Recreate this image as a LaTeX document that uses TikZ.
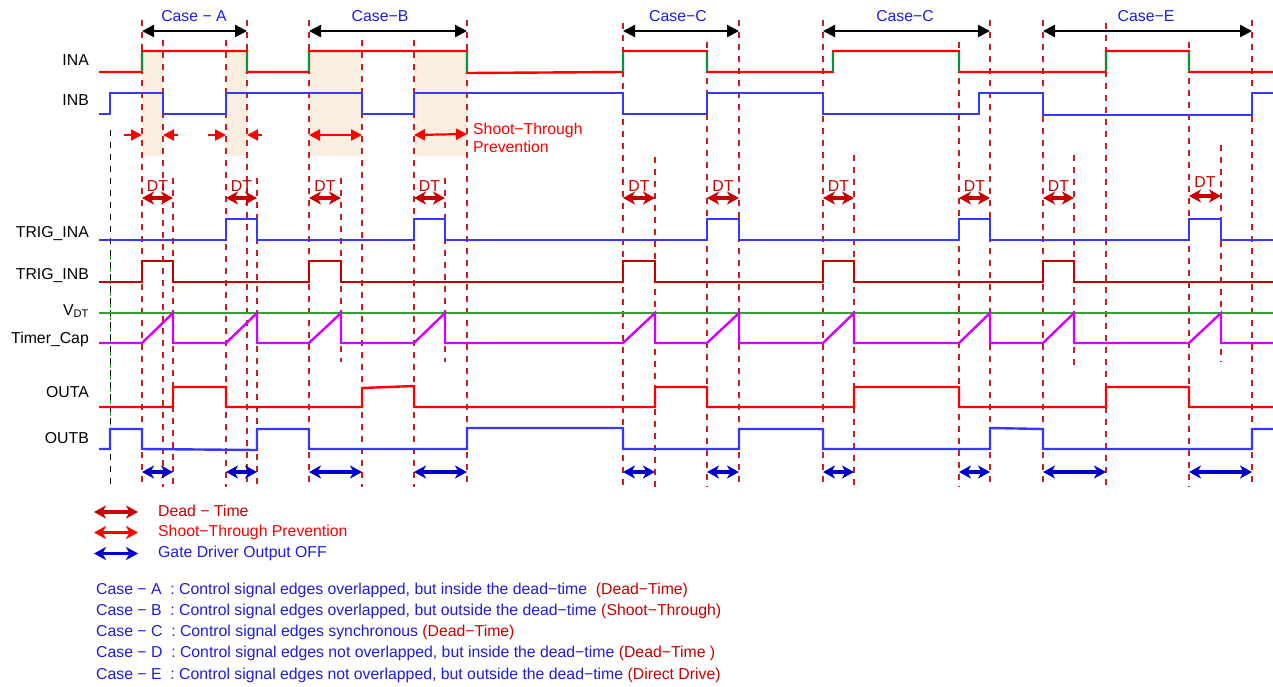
\documentclass[tikz,border=0pt]{standalone}
\usepackage{fontspec}
\setmainfont{Liberation Sans}
\usetikzlibrary{arrows.meta}
\definecolor{sigred}{RGB}{255,0,0}
\definecolor{siggreen}{RGB}{0,150,60}
\definecolor{sigblue}{RGB}{55,55,255}
\definecolor{dtred}{RGB}{200,0,0}
\definecolor{vdtgreen}{RGB}{50,160,50}
\definecolor{capmag}{RGB}{210,0,255}
\definecolor{offblue}{RGB}{0,0,205}
\definecolor{txtblue}{RGB}{30,30,220}
\definecolor{shadecol}{RGB}{250,238,224}
\definecolor{guidered}{RGB}{200,30,30}
\begin{document}
\begin{tikzpicture}[x=1pt,y=-1pt,font=\fontsize{15.8}{18}\selectfont,
  sig/.style={line width=2.4pt,line join=miter},
  guide/.style={guidered,line width=1.1pt,dash pattern=on 6pt off 6pt},
  lab/.style={anchor=base east,inner sep=0pt,text=black},
  casearr/.style={black,line width=2.4pt,>={Triangle[length=12pt,width=12pt]},<->},
  dtarr/.style={dtred,line width=3.2pt,>={Stealth[length=12pt,width=13pt,inset=3.5pt]},<->},
  offarr/.style={offblue,line width=3.2pt,>={Stealth[length=12pt,width=13pt,inset=3.5pt]},<->},
  starr/.style={sigred,line width=2.2pt,>={Triangle[length=11pt,width=11pt]}},
  legarr/.style={line width=3.2pt,>={Stealth[length=12pt,width=13pt,inset=3.5pt]},<->}
]
\useasboundingbox (0,0) rectangle (1273,686);
\fill[white] (0,0) rectangle (1273,686);

% shaded overlap regions
\foreach \a/\b in {142/163,226/247,309/362,414/467}
  \fill[shadecol] (\a,51) rectangle (\b,156);

% vertical guide lines
\foreach \x/\a/\b in {142/20/487,163/40/487,173/178/487,226/40/487,247/20/487,257/178/487,
  309/20/487,341/178/362,362/40/487,414/40/487,445/178/362,467/20/487,623/23/487,655/157/487,
  707/42/487,739/20/487,823/20/487,854/155/487,959/42/487,990/20/487,1043/20/487,1074/155/365,
  1106/23/487,1189/42/487,1221/145/362,1252/20/487}
  \draw[guide] (\x,\a) -- (\x,\b);
\draw[black,line width=0.9pt,dash pattern=on 6pt off 6pt] (110,130) -- (110,488);
\draw[vdtgreen,line width=0.9pt,dash pattern=on 4pt off 8pt,dash phase=6pt] (110.5,250) -- (110.5,425);

% case arrows
\foreach \a/\b in {142/247,309/467,623/739,823/990,1043/1252}
  \draw[casearr] (\a,31) -- (\b,31);
\node[anchor=base,inner sep=0pt,text=txtblue] (casea) at (194,21) {Case − A};
\node[anchor=base,inner sep=0pt,text=txtblue] (caseb) at (380,21) {Case−B};
\node[anchor=base,inner sep=0pt,text=txtblue] (casec) at (678,21) {Case−C};
\node[anchor=base,inner sep=0pt,text=txtblue] (cased) at (905,21) {Case−C};
\node[anchor=base,inner sep=0pt,text=txtblue] (casee) at (1146,21) {Case−E};

% signal labels
\node[lab] (lina) at (89,65) {INA};
\node[lab] (linb) at (89,105.5) {INB};
\node[lab] (ltria) at (89,237) {TRIG\_INA};
\node[lab] (ltrib) at (89,279) {TRIG\_INB};
\node[lab] (lvdt) at (89,315) {V\textsubscript{DT}};
\node[lab] (lcap) at (89,343) {Timer\_Cap};
\node[lab] (louta) at (89,397.5) {OUTA};
\node[lab] (loutb) at (89,443) {OUTB};

% INA
\draw[sig,sigred] (99,72) -- (142,72) -- (142,51) -- (247,51) -- (247,72) -- (309,72) -- (309,51)
  -- (467,51) -- (467,73) -- (623,72) -- (623,51) -- (707,51) -- (707,72) -- (833,72) -- (833,51)
  -- (959,51) -- (959,72) -- (1106,72) -- (1106,51) -- (1189,51) -- (1189,72) -- (1273,72);
\foreach \x in {142,247,309,467,623,707,833,959,1106,1189}
  \draw[line width=2.4pt,siggreen] (\x,52) -- (\x,72);

% INB
\draw[sig,sigblue] (99,114) -- (110,114) -- (110,93) -- (163,93) -- (163,114) -- (226,114) -- (226,93)
  -- (362,93) -- (362,114) -- (414,114) -- (414,93) -- (623,93) -- (623,114) -- (707,114) -- (707,93)
  -- (823,93) -- (823,114) -- (979,114) -- (979,93) -- (1043,93) -- (1043,115) -- (1252,115)
  -- (1252,93) -- (1273,93);

% shoot-through arrows
\draw[starr,->] (124,135) -- (142,135);
\draw[starr,->] (178,135) -- (163,135);
\draw[starr,->] (208,135) -- (226,135);
\draw[starr,->] (262,135) -- (247,135);
\draw[starr,<->] (309,135) -- (362,135);
\draw[starr,<->] (414,135) -- (467,134);
\node[anchor=base west,inner sep=0pt,text=sigred] (stp1) at (473,134) {Shoot−Through};
\node[anchor=base west,inner sep=0pt,text=sigred] (stp2) at (473,152) {Prevention};

% DT arrows
\foreach \a/\b in {142/173,226/257,309/341,414/445,623/655,707/739,823/854,959/990,1043/1074}
  \draw[dtarr] (\a,198) -- (\b,198);
\draw[dtarr] (1189,196) -- (1221,196);
\foreach \m [count=\i] in {157.5,241.5,325,429.5,639,723,838.5,974.5,1058.5}
  \node[anchor=base,inner sep=0pt,text=dtred] (dt\i) at (\m,191) {DT};
\node[anchor=base,inner sep=0pt,text=dtred] (dt10) at (1205,187) {DT};

% TRIG_INA
\draw[sig,sigblue] (99,240) -- (226,240) -- (226,219) -- (257,219) -- (257,240) -- (414,240) -- (414,219)
  -- (445,219) -- (445,240) -- (707,240) -- (707,219) -- (739,219) -- (739,240) -- (959,240) -- (959,219)
  -- (990,219) -- (990,240) -- (1189,240) -- (1189,219) -- (1221,219) -- (1221,240) -- (1273,240);
% TRIG_INB
\draw[sig,dtred] (99,282) -- (142,282) -- (142,261) -- (173,261) -- (173,282) -- (309,282) -- (309,261)
  -- (341,261) -- (341,282) -- (623,282) -- (623,261) -- (655,261) -- (655,282) -- (823,282) -- (823,261)
  -- (854,261) -- (854,282) -- (1043,282) -- (1043,261) -- (1074,261) -- (1074,282) -- (1273,282);
% V_DT
\draw[sig,vdtgreen] (99,313) -- (1273,313);
% Timer_Cap
\draw[sig,capmag] (99,343) -- (142,343) -- (173,313) -- (173,343) -- (226,343) -- (257,313) -- (257,343)
  -- (309,343) -- (341,313) -- (341,343) -- (414,343) -- (445,313) -- (445,343) -- (623,343) -- (655,313)
  -- (655,343) -- (707,343) -- (739,313) -- (739,343) -- (823,343) -- (854,313) -- (854,343) -- (959,343)
  -- (990,313) -- (990,343) -- (1043,343) -- (1074,313) -- (1074,343) -- (1189,343) -- (1221,313)
  -- (1221,343) -- (1273,343);

% OUTA
\draw[sig,sigred] (99,407) -- (173,407) -- (173,387) -- (226,387) -- (226,407) -- (362,407) -- (362,388)
  -- (414,386) -- (414,407) -- (655,407) -- (655,387) -- (707,387) -- (707,407) -- (854,407) -- (854,387)
  -- (959,387) -- (959,407) -- (1106,407) -- (1106,387) -- (1189,387) -- (1189,407) -- (1273,407);
% OUTB
\draw[sig,sigblue] (99,449) -- (110,449) -- (110,429) -- (142,429) -- (142,449) -- (257,450) -- (257,429)
  -- (309,429) -- (309,449) -- (467,449) -- (467,428) -- (623,428) -- (623,449) -- (739,449) -- (739,429)
  -- (823,429) -- (823,449) -- (990,449) -- (990,428) -- (1043,429) -- (1043,449) -- (1252,449)
  -- (1252,429) -- (1273,429);

% output-off arrows
\foreach \a/\b in {142/173,226/257,309/362,414/467,623/655,707/739,823/854,959/990,1043/1106,1189/1252}
  \draw[offarr] (\a,472) -- (\b,472);

% legend
\draw[legarr,dtred] (94,512) -- (138,512);
\draw[legarr,sigred] (94,532.5) -- (138,532.5);
\draw[legarr,offblue] (94,553.5) -- (138,553.5);
\node[anchor=base west,inner sep=0pt,text=dtred] (leg1) at (158,516) {Dead − Time};
\node[anchor=base west,inner sep=0pt,text=sigred] (leg2) at (158,536.7) {Shoot−Through Prevention};
\node[anchor=base west,inner sep=0pt,text=txtblue] (leg3) at (158,557.7) {Gate Driver Output OFF};

\node[anchor=base west,inner sep=0pt,text=txtblue] (da) at (96,594)
  {Case − A\ \ : Control signal edges overlapped, but inside the dead−time\ \ \textcolor{dtred}{(Dead−Time)}};
\node[anchor=base west,inner sep=0pt,text=txtblue] (db) at (96,615.3)
  {Case − B\ \ : Control signal edges overlapped, but outside the dead−time \textcolor{dtred}{(Shoot−Through)}};
\node[anchor=base west,inner sep=0pt,text=txtblue] (dc) at (96,636.6)
  {Case − C\ \ : Control signal edges synchronous \textcolor{dtred}{(Dead−Time)}};
\node[anchor=base west,inner sep=0pt,text=txtblue] (dd) at (96,657.9)
  {Case − D\ \ : Control signal edges not overlapped, but inside the dead−time \textcolor{dtred}{(Dead−Time )}};
\node[anchor=base west,inner sep=0pt,text=txtblue] (de) at (96,679.2)
  {Case − E\ \ : Control signal edges not overlapped, but outside the dead−time \textcolor{dtred}{(Direct Drive)}};
\end{tikzpicture}
\end{document}
